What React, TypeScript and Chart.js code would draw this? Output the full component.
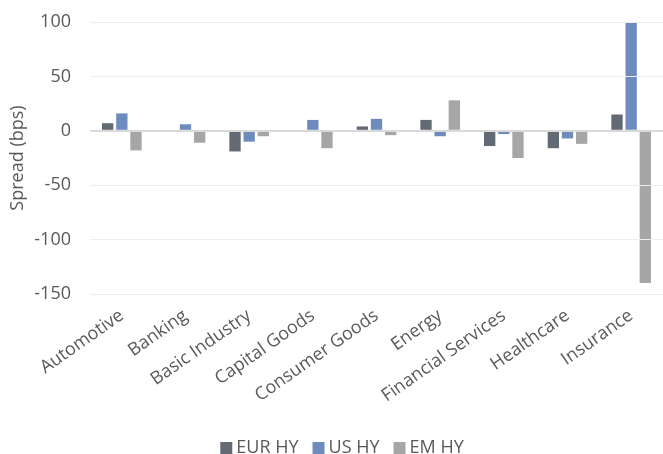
import React, { useEffect, useRef } from "react";
import { Chart, registerables } from "chart.js";

Chart.register(...registerables);

const categories = [
  "Automotive",
  "Banking",
  "Basic Industry",
  "Capital Goods",
  "Consumer Goods",
  "Energy",
  "Financial Services",
  "Healthcare",
  "Insurance",
];

const eurHY = [7, -1, -19, -1, 4, 10, -14, -16, 15];
const usHY = [16, 6, -10, 10, 11, -5, -3, -7, 100];
const emHY = [-18, -11, -5, -16, -4, 28, -25, -12, -140];

const yTicks = [100, 50, 0, -50, -100, -150];

const FONT = "'Open Sans', sans-serif";
const TEXT = "#595959";
const LEGEND_PAD = 19;

export default function App() {
  const ref = useRef<HTMLCanvasElement | null>(null);

  useEffect(() => {
    if (!ref.current) return;
    const legendShift = {
      id: "legendShift",
      afterLayout(chart: any) {
        const l = chart.legend;
        if (!l) return;
        const h = l.height;
        l.left = 26;
        l.right = 663;
        l.top = 448 - 9 - LEGEND_PAD;
        l.bottom = l.top + h;
      },
    };
    const chart = new Chart(ref.current, {
      type: "bar",
      data: {
        labels: categories,
        datasets: [
          { label: "EUR HY", data: eurHY, backgroundColor: "#636a73" },
          { label: "US HY", data: usHY, backgroundColor: "#6d8bbd" },
          { label: "EM HY", data: emHY, backgroundColor: "#a6a6a6" },
        ],
      },
      options: {
        animation: false,
        responsive: true,
        maintainAspectRatio: false,
        layout: { padding: { top: 22, right: 0, left: 0, bottom: 0 } },
        datasets: {
          bar: { categoryPercentage: 0.667, barPercentage: 0.8 },
        },
        plugins: {
          legend: {
            position: "bottom",
            labels: {
              usePointStyle: true,
              pointStyle: "rect",
              boxWidth: 2,
              boxHeight: 12,
              padding: LEGEND_PAD,
              color: TEXT,
              font: { family: FONT, size: 18 },
            },
          },
          tooltip: { enabled: false },
        },
        scales: {
          x: {
            grid: { display: false },
            border: { display: false },
            ticks: {
              color: TEXT,
              font: { family: FONT, size: 18 },
              minRotation: 35,
              maxRotation: 35,
              autoSkip: false,
              padding: 3,
            },
            afterFit: (s: any) => {
              const lh = s.chart.legend ? s.chart.legend.height : 0;
              s.height = s.chart.height - 294 - lh;
            },
          },
          y: {
            min: -150,
            max: 100,
            afterBuildTicks: (s: any) => {
              s.ticks = yTicks.map((v) => ({ value: v }));
            },
            afterFit: (s: any) => {
              s.width = 90;
              s.paddingTop = 0;
              s.paddingBottom = 0;
            },
            grid: {
              z: 1,
              drawTicks: false,
              color: (ctx: any) => (ctx.tick && ctx.tick.value === 0 ? "#d9d9d9" : "#eeeeee"),
              lineWidth: (ctx: any) => (ctx.tick && ctx.tick.value === 0 ? 2 : 1),
            },
            border: { display: false },
            ticks: {
              color: TEXT,
              font: { family: FONT, size: 18 },
              padding: 19,
            },
            title: {
              display: true,
              text: "Spread (bps)",
              color: TEXT,
              font: { family: FONT, size: 18 },
              padding: { top: 7, bottom: 0 },
            },
          },
        },
      },
      plugins: [legendShift],
    });
    return () => chart.destroy();
  }, []);

  return (
    <div style={{ position: "fixed", left: 0, top: 0, width: 663, height: 454, background: "#fff" }}>
      <canvas ref={ref} />
    </div>
  );
}
